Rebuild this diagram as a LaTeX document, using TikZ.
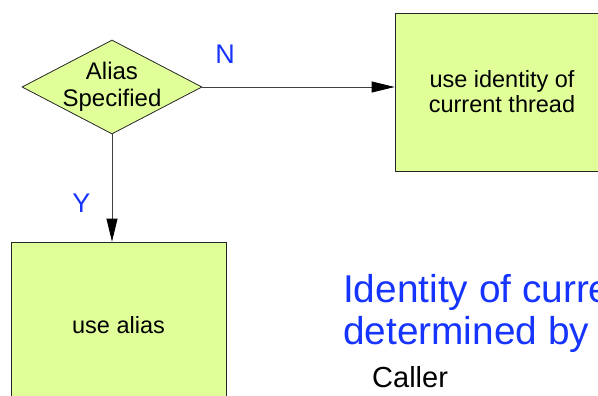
\documentclass[tikz,border=0pt]{standalone}
\usepackage{fontspec}
\setmainfont{Liberation Sans}
\usetikzlibrary{shapes.geometric,arrows.meta}
\definecolor{boxfill}{RGB}{224,255,153}
\definecolor{labelblue}{RGB}{22,52,255}
\begin{document}
\begin{tikzpicture}[x=1pt,y=-1pt,
    decision/.style={diamond,aspect=1.9,draw=black!85,fill=boxfill,line width=0.8pt,
      minimum width=180pt,minimum height=94pt,inner sep=-10pt,align=center,
      font=\fontsize{24}{27}\selectfont},
    action/.style={rectangle,draw=black!85,fill=boxfill,line width=0.8pt,
      align=center,font=\fontsize{23.5}{25}\selectfont},
    flow/.style={draw=black!75,line width=0.8pt,-{Triangle[length=23pt,width=11pt,black]}},
    lbl/.style={text=labelblue,font=\fontsize{27}{29}\selectfont,inner sep=0pt}]
  \useasboundingbox (0,0) rectangle (598,396);
  \node[decision] (alias) at (112,87) {Alias\\Specified};
  \node[action,minimum width=214pt,minimum height=158pt] (thread) at (502,92) {use identity of\\current thread};
  \node[action,minimum width=215pt,minimum height=166pt] (usealias) at (118.5,325) {use alias};
  \draw[flow] (alias.east) -- (thread.west |- alias.east);
  \draw[flow] (alias.south) -- (usealias.north -| alias.south);
  \node[lbl] (no) at (225,54.5) {N};
  \node[lbl] (yes) at (81.5,203) {Y};
  \node[anchor=base west,inner sep=0pt,align=left,text=labelblue,
    font=\fontsize{38.8}{42}\selectfont] (ident) at (343,344) {Identity of current\\determined by};
  \node[anchor=base west,inner sep=0pt,font=\fontsize{29}{32}\selectfont] (caller) at (372,387) {Caller};
\end{tikzpicture}
\end{document}
